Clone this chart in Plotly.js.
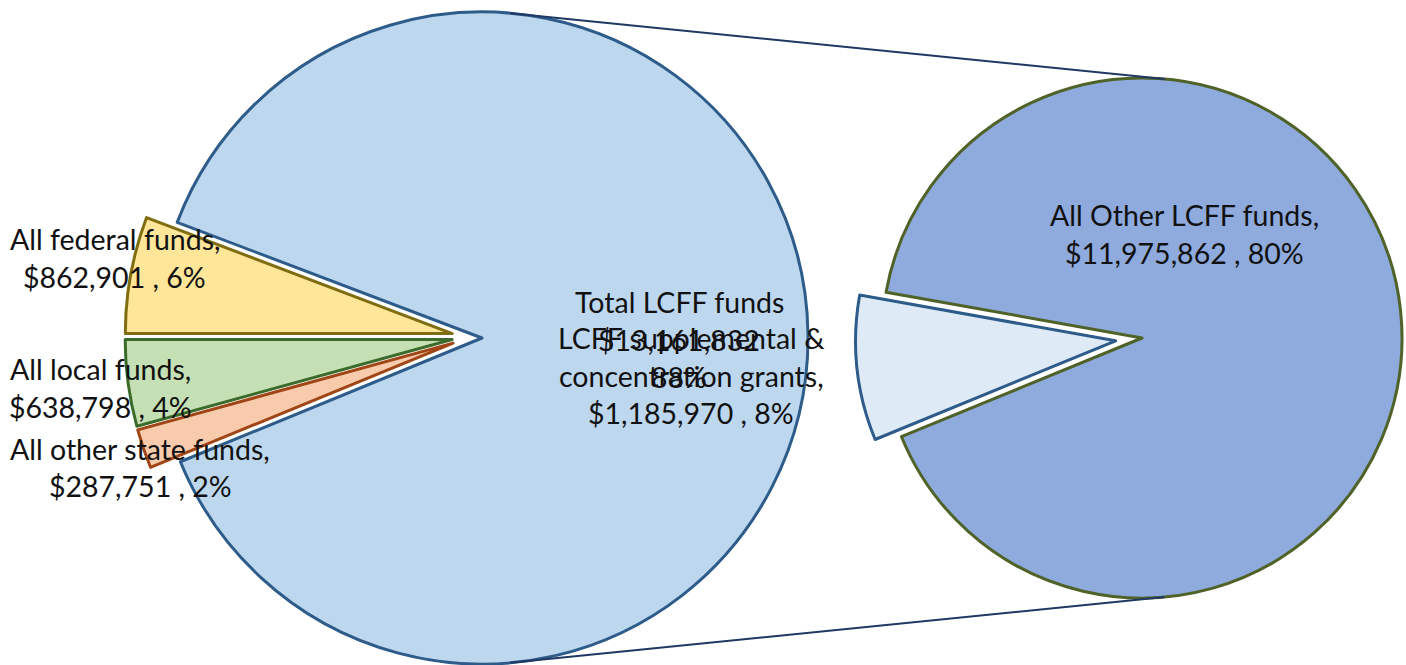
<!DOCTYPE html>
<html><head><meta charset="utf-8">
<script src="https://cdn.plot.ly/plotly-3.0.1.min.js"></script>
<style>html,body{margin:0;padding:0;background:#fff;overflow:hidden}#wrap{width:1406px;height:665px;overflow:hidden;position:relative}#chart{width:1406px;height:700px}</style>
</head><body><div id="wrap"><div id="chart"></div></div>
<script>
// ---- data ----
const primaryLabels = ['Total LCFF funds', 'All other state funds', 'All local funds', 'All federal funds'];
const primaryValues = [13161832, 287751, 638798, 862901];
const secondaryLabels = ['LCFF supplemental & concentration grants', 'All Other LCFF funds'];
const secondaryValues = [1185970, 11975862];

// ---- geometry (pixels from top-left) ----
const W = 1406, H = 700;                        // plot drawn a bit taller than the 665px view
const P = {cx: 482, cy: 338, r: 326};          // primary pie
const PS = {cx: 471, cy: 337, r: 327, d: 19};  // base + explosion distance of small primary slices
const S = {cx: 1142, cy: 338, r: 260};         // secondary pie
const SS_SHIFT = 26.5;                          // explosion of small secondary slice

const grand = primaryValues.reduce((a, b) => a + b, 0);
const pct = v => Math.round(v / grand * 100) + '%';
const money = v => '$' + v.toLocaleString('en-US');

function dom(c) {
  return {x: [(c.cx - c.r) / W, (c.cx + c.r) / W], y: [1 - (c.cy + c.r) / H, 1 - (c.cy - c.r) / H]};
}
const T = 'rgba(0,0,0,0)';
const pFill = ['#bdd7ee', '#f8cbad', '#c5e0b4', '#ffe699'];
const pLine = ['#2e5c8a', '#a04516', '#3b6b2a', '#7f6d10'];
const sFill = ['#deebf7', '#8faadc'];
const sLine = ['#2e5c8a', '#4f6228'];
const LW = 3;

const rotP = 270 + 360 * primaryValues[3] / grand;
const rotS = 270 - 360 * (primaryValues[1] + primaryValues[2]) / grand;

const base = {type: 'pie', sort: false, direction: 'clockwise', textinfo: 'none', hoverinfo: 'none', showlegend: false};

function onlySlice(labels, values, rot, fills, lines, k, c) {
  return Object.assign({}, base, {
    labels: labels, values: values, rotation: rot, domain: dom(c),
    marker: {
      colors: fills.map((f, i) => i === k ? f : T),
      line: {color: lines.map((l, i) => i === k ? l : T), width: lines.map((l, i) => i === k ? LW : 0)}
    }
  });
}
function bisector(values, rot, k) {
  const tot = values.reduce((a, b) => a + b, 0);
  let start = rot;
  for (let i = 0; i < k; i++) start += 360 * values[i] / tot;
  return (start + 180 * values[k] / tot) * Math.PI / 180;
}
function shifted(c, ang, d) {
  return {cx: c.cx + d * Math.sin(ang), cy: c.cy - d * Math.cos(ang), r: c.r};
}

const traces = [];
traces.push(onlySlice(primaryLabels, primaryValues, rotP, pFill, pLine, 0, P));
for (let k = 1; k < primaryValues.length; k++) {
  const c = shifted(PS, bisector(primaryValues, rotP, k), PS.d);
  traces.push(onlySlice(primaryLabels, primaryValues, rotP, pFill, pLine, k, c));
}
traces.push(onlySlice(secondaryLabels, secondaryValues, rotS, sFill, sLine, 1, S));
traces.push(onlySlice(secondaryLabels, secondaryValues, rotS, sFill, sLine, 0,
  shifted(S, bisector(secondaryValues, rotS, 0), SS_SHIFT)));

// connector lines
function onCircle(c, degCw) {
  const a = degCw * Math.PI / 180;
  return [c.cx + c.r * Math.sin(a), c.cy - c.r * Math.cos(a)];
}
function seg(a, b) {
  return {type: 'line', xref: 'paper', yref: 'paper', x0: a[0] / W, y0: 1 - a[1] / H, x1: b[0] / W, y1: 1 - b[1] / H,
          line: {color: '#1f3864', width: 2}, layer: 'above'};
}
const shapes = [seg(onCircle(P, 5), onCircle(S, 5)), seg(onCircle(P, 175), onCircle(S, 175))];

// labels
const labelBlocks = [
  {lines: ['All federal funds,', money(primaryValues[3]) + ' , ' + pct(primaryValues[3])], x: 115, y: 239},
  {lines: ['All local funds,', money(primaryValues[2]) + ' , ' + pct(primaryValues[2])], x: 100, y: 369},
  {lines: ['All other state funds,', money(primaryValues[1]) + ' , ' + pct(primaryValues[1])], x: 140, y: 449},
  {lines: ['Total LCFF funds', money(primaryValues[0]), pct(primaryValues[0])], x: 679, y: 302},
  {lines: ['LCFF supplemental &', 'concentration grants,', money(secondaryValues[0]) + ' , ' + pct(secondaryValues[0])], x: 691, y: 338},
  {lines: ['All Other LCFF funds,', money(secondaryValues[1]) + ' , ' + pct(secondaryValues[1])], x: 1184, y: 215}
];
const LS = 37.5;
const annotations = [];
labelBlocks.forEach(b => b.lines.forEach((t, i) => {
  annotations.push({xref: 'paper', yref: 'paper', x: b.x / W, y: 1 - (b.y + i * LS) / H, text: t, showarrow: false,
    xanchor: 'center', yanchor: 'middle', font: {family: 'Lato, "Open Sans", sans-serif', size: 28.5, color: '#111'}});
}));

Plotly.newPlot('chart', traces, {
  width: W, height: H, margin: {l: 0, r: 0, t: 0, b: 0}, paper_bgcolor: '#fff',
  shapes: shapes, annotations: annotations
}, {displayModeBar: false, staticPlot: true});
</script></body></html>
